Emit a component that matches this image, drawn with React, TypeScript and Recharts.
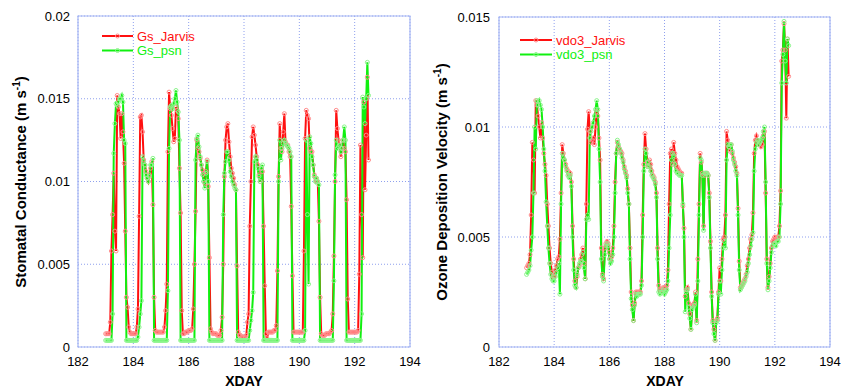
import React from 'react';
import { LineChart, Line, XAxis, YAxis, CartesianGrid, ReferenceArea } from 'recharts';

// ---------- data (hourly samples from XDAY 183.0 to 192.5) ----------
const startDay = 183;
const samplesPerDay = 24;
const xTicks = [182, 184, 186, 188, 190, 192, 194];
const gsTicks = [0, 0.005, 0.01, 0.015, 0.02];
const vdTicks = [0, 0.005, 0.01, 0.015];

const gsJarvis = [
  0.0008,0.0008,0.0008,0.0008,0.0015,0.0058,0.008,0.0105,0.007,0.0058,0.0152,0.0145,0.0141,0.0126,0.0141,0.013,0.0111,0.007,0.003,0.0024,0.0012,0.0009,0.0008,0.0008,
  0.0008,0.0008,0.0008,0.0012,0.0023,0.0079,0.0139,0.014,0.013,0.0113,0.011,0.0106,0.0102,0.01,0.0104,0.0108,0.0112,0.0086,0.003,0.001,0.0009,0.0009,0.0009,0.0009,
  0.0009,0.0009,0.0009,0.0012,0.0022,0.0038,0.0118,0.0154,0.0144,0.014,0.0132,0.0124,0.0126,0.0145,0.0143,0.0138,0.0108,0.0081,0.0022,0.0008,0.0008,0.0009,0.0009,0.0009,
  0.001,0.001,0.001,0.0011,0.0023,0.005,0.0082,0.0125,0.012,0.0118,0.0114,0.011,0.0107,0.0105,0.0099,0.0106,0.0113,0.0097,0.0054,0.0011,0.0009,0.0008,0.0008,0.0008,
  0.0008,0.0007,0.0007,0.0007,0.001,0.0018,0.005,0.0103,0.0125,0.0133,0.0135,0.0124,0.0115,0.0108,0.0105,0.0102,0.0098,0.0095,0.0049,0.0009,0.0007,0.0007,0.0006,0.0006,
  0.0006,0.0006,0.0007,0.0015,0.002,0.0073,0.01,0.0127,0.0133,0.0128,0.0122,0.0115,0.011,0.0104,0.01,0.0108,0.0106,0.0073,0.0037,0.0008,0.0005,0.0009,0.0009,0.0009,
  0.0009,0.0009,0.001,0.001,0.0013,0.0046,0.0103,0.0135,0.012,0.0118,0.013,0.0141,0.0124,0.0122,0.0122,0.0118,0.0115,0.0085,0.0043,0.0009,0.0009,0.0009,0.0009,0.0009,
  0.0009,0.0009,0.0009,0.0009,0.0058,0.0126,0.0143,0.014,0.0138,0.012,0.0118,0.0118,0.011,0.0104,0.0102,0.01,0.01,0.0076,0.003,0.0008,0.0007,0.0007,0.0007,0.0008,
  0.0008,0.0008,0.0008,0.0009,0.001,0.002,0.0055,0.01,0.0143,0.0132,0.0125,0.0122,0.0115,0.012,0.0125,0.012,0.0118,0.0089,0.0029,0.0009,0.0009,0.0009,0.0009,0.0009,
  0.0009,0.0009,0.0009,0.001,0.0044,0.0122,0.008,0.0054,0.0148,0.0095,0.0128,0.0163,0.0113,
];

const gsPsn = [
  0.0004,0.0004,0.0004,0.0004,0.0004,0.0004,0.002,0.0117,0.0135,0.0147,0.0146,0.0148,0.015,0.015,0.0152,0.0148,0.0125,0.0123,0.0004,0.0004,0.0004,0.0004,0.0004,0.0004,
  0.0004,0.0004,0.0004,0.0004,0.0006,0.0012,0.002,0.0028,0.0115,0.0112,0.011,0.0104,0.0102,0.01,0.0103,0.011,0.011,0.0114,0.0004,0.0004,0.0004,0.0004,0.0004,0.0004,
  0.0004,0.0004,0.0004,0.0004,0.0004,0.0004,0.0034,0.012,0.0145,0.0146,0.0144,0.0147,0.015,0.0155,0.0148,0.0142,0.0125,0.0004,0.0004,0.0004,0.0004,0.0004,0.0004,0.0004,
  0.0004,0.0004,0.0004,0.0004,0.0004,0.0004,0.0113,0.0126,0.0128,0.0121,0.0115,0.011,0.0104,0.01,0.0096,0.0105,0.0112,0.01,0.0004,0.0004,0.0004,0.0004,0.0004,0.0004,
  0.0004,0.0004,0.0004,0.0004,0.0004,0.0004,0.008,0.0105,0.0112,0.0118,0.0118,0.0113,0.0106,0.0103,0.01,0.0098,0.0096,0.0095,0.0004,0.0004,0.0004,0.0004,0.0004,0.0004,
  0.0004,0.0004,0.0004,0.0004,0.0004,0.001,0.0016,0.0022,0.0033,0.0112,0.0115,0.0113,0.0108,0.0103,0.01,0.0108,0.011,0.0004,0.0004,0.0004,0.0004,0.0004,0.0004,0.0004,
  0.0004,0.0004,0.0004,0.0004,0.0004,0.0004,0.01,0.0125,0.0113,0.012,0.0123,0.0125,0.0123,0.0122,0.0121,0.012,0.0118,0.0115,0.0004,0.0004,0.0004,0.0004,0.0004,0.0004,
  0.0004,0.0004,0.0004,0.0004,0.0004,0.001,0.0125,0.008,0.0038,0.0127,0.0123,0.0115,0.011,0.0103,0.01,0.0102,0.01,0.0098,0.0004,0.0004,0.0004,0.0004,0.0004,0.0004,
  0.0004,0.0004,0.0004,0.0004,0.0004,0.0004,0.004,0.0104,0.0125,0.012,0.0121,0.0122,0.0118,0.012,0.0125,0.0133,0.0125,0.0004,0.0004,0.0004,0.0004,0.0004,0.0004,0.0004,
  0.0004,0.0004,0.0004,0.0004,0.0004,0.0004,0.002,0.0151,0.0145,0.0135,0.015,0.0172,0.0152,
];

const vdo3Jarvis = [
  0.0036,0.0037,0.0038,0.0042,0.006,0.0093,0.0085,0.007,0.0112,0.011,0.0105,0.01,0.0095,0.0102,0.0095,0.0088,0.0083,0.0078,0.0065,0.0055,0.0045,0.0038,0.0034,0.0032,
  0.0032,0.0035,0.0037,0.004,0.0041,0.0049,0.007,0.0092,0.0088,0.0085,0.0083,0.0081,0.008,0.0078,0.0079,0.0075,0.0055,0.004,0.003,0.0027,0.0032,0.0036,0.0037,0.004,
  0.0042,0.0045,0.0038,0.0031,0.0065,0.0099,0.0107,0.0098,0.0093,0.0094,0.0095,0.0092,0.01,0.0107,0.0105,0.0095,0.0085,0.0045,0.0033,0.0031,0.0045,0.0047,0.0048,0.0047,
  0.0043,0.004,0.0041,0.0045,0.0055,0.0075,0.0088,0.0093,0.0091,0.009,0.0089,0.0088,0.0085,0.0082,0.008,0.0078,0.0072,0.0065,0.0045,0.0025,0.0019,0.0012,0.002,0.0025,
  0.0025,0.0025,0.0025,0.0025,0.003,0.006,0.0083,0.0097,0.009,0.0084,0.0082,0.0085,0.0083,0.008,0.0078,0.0077,0.0075,0.007,0.0045,0.0028,0.0026,0.0026,0.0026,0.0027,
  0.0027,0.0027,0.0028,0.0035,0.0065,0.0088,0.009,0.0083,0.0093,0.0088,0.0085,0.0082,0.0081,0.008,0.0079,0.0079,0.0064,0.0054,0.0023,0.0026,0.0027,0.002,0.0015,0.0008,
  0.0019,0.0019,0.002,0.0025,0.0012,0.004,0.0065,0.0088,0.0084,0.0079,0.0055,0.0078,0.0079,0.0079,0.0078,0.007,0.0048,0.0025,0.0012,0.0008,0.0003,0.0012,0.0013,0.0025,
  0.0036,0.003,0.004,0.0049,0.005,0.006,0.0098,0.0094,0.0091,0.0089,0.0092,0.0088,0.0086,0.0084,0.0082,0.0079,0.0063,0.0039,0.0027,0.0028,0.0029,0.003,0.0031,0.0033,
  0.0037,0.004,0.0045,0.0049,0.0051,0.0061,0.0088,0.0094,0.0096,0.0094,0.0092,0.0093,0.0091,0.0092,0.0096,0.0098,0.007,0.004,0.0027,0.0032,0.0038,0.0045,0.0048,0.0049,
  0.005,0.0049,0.005,0.005,0.0055,0.0071,0.013,0.0135,0.0147,0.0135,0.0104,0.014,0.0123,
];

const vdo3Psn = [
  0.0033,0.0034,0.0035,0.0037,0.0044,0.005,0.007,0.01,0.009,0.0112,0.011,0.0112,0.011,0.0108,0.01,0.009,0.008,0.0066,0.0055,0.0045,0.0038,0.0033,0.0031,0.003,
  0.003,0.0032,0.0034,0.0036,0.0038,0.0024,0.0065,0.0088,0.0086,0.0085,0.0082,0.008,0.0078,0.0077,0.0078,0.0073,0.005,0.0035,0.0028,0.0027,0.0033,0.0036,0.0038,0.0039,
  0.0039,0.0043,0.0036,0.0031,0.0058,0.006,0.0058,0.0095,0.0098,0.01,0.0102,0.0105,0.0108,0.0112,0.0108,0.009,0.0075,0.004,0.0032,0.003,0.0042,0.0046,0.0047,0.0046,
  0.004,0.0038,0.0039,0.0042,0.005,0.007,0.0088,0.0094,0.0092,0.009,0.0088,0.0086,0.0084,0.0081,0.0079,0.0077,0.007,0.0065,0.004,0.0022,0.0017,0.0012,0.0019,0.0024,
  0.0023,0.0024,0.0024,0.0024,0.0028,0.005,0.008,0.009,0.0088,0.0082,0.0084,0.0082,0.008,0.0078,0.0077,0.0076,0.0074,0.0068,0.004,0.0025,0.0024,0.0025,0.0025,0.0026,
  0.0024,0.0025,0.0026,0.003,0.0045,0.006,0.0085,0.0088,0.0087,0.0083,0.008,0.0079,0.0079,0.0078,0.0078,0.0078,0.0065,0.005,0.0016,0.0025,0.0026,0.0018,0.0013,0.0008,
  0.0017,0.0018,0.0019,0.0024,0.0011,0.003,0.006,0.0086,0.0085,0.0078,0.0053,0.0079,0.0079,0.0079,0.0078,0.0068,0.0045,0.0023,0.0011,0.0006,0.0003,0.0011,0.0012,0.0024,
  0.003,0.0024,0.0035,0.0045,0.0048,0.0045,0.0085,0.0092,0.0091,0.0092,0.0092,0.0089,0.0085,0.0083,0.008,0.0078,0.006,0.0035,0.0026,0.0027,0.0028,0.0029,0.003,0.0032,
  0.0034,0.0038,0.0042,0.0046,0.0049,0.0052,0.008,0.009,0.0093,0.0094,0.0092,0.0093,0.0094,0.0095,0.0098,0.01,0.0075,0.0038,0.0026,0.003,0.0036,0.0043,0.0046,0.0047,
  0.0047,0.0046,0.0048,0.0048,0.005,0.0065,0.012,0.0133,0.0148,0.013,0.012,0.014,0.0137,
];

// ---------- styling ----------
const FONT = '"Liberation Sans", Arial, Helvetica, sans-serif';
const RED = '#ff1010';
const GREEN = '#10f010';
const RED_DOT = '#ff8c8c';
const GREEN_DOT = '#8cf58c';
const GRID = '#8fa0ee';
const FRAME = '#a6b6f4';

function buildRows(a: number[], b: number[]) {
  return a.map((v, i) => ({ x: startDay + i / samplesPerDay, a: v, b: b[i] }));
}

type PanelProps = {
  left: number;
  rows: { x: number; a: number; b: number }[];
  yMax: number;
  yTicks: number[];
  yAxisWidth: number;
  marginTop: number;
  marginRight: number;
  tickGap: number;
};

function Panel({ left, rows, yMax, yTicks, yAxisWidth, marginTop, marginRight, tickGap }: PanelProps) {
  const tickStyle = { fontSize: 13, fill: '#000', fontFamily: FONT };
  return (
    <div style={{ position: 'absolute', left, top: 0 }}>
      <LineChart
        width={423}
        height={389}
        data={rows}
        margin={{ top: marginTop, right: marginRight, bottom: 0, left: 0 }}
      >
        <CartesianGrid stroke={GRID} strokeDasharray="1 2" />
        <XAxis
          type="number"
          dataKey="x"
          domain={[182, 194]}
          ticks={xTicks}
          interval={0}
          height={42}
          axisLine={false}
          tickLine={false}
          tickSize={0}
          tickMargin={10}
          tick={tickStyle}
        />
        <YAxis
          type="number"
          domain={[0, yMax]}
          ticks={yTicks}
          interval={0}
          width={yAxisWidth}
          axisLine={false}
          tickLine={false}
          tickSize={0}
          tickMargin={tickGap}
          tick={tickStyle}
          tickFormatter={(v: number) => String(v)}
        />
        <ReferenceArea x1={182} x2={194} y1={0} y2={yMax} fill="none" stroke={FRAME} strokeWidth={1.2} />
        <Line
          type="linear"
          dataKey="a"
          stroke={RED}
          strokeWidth={2}
          dot={{ r: 2, stroke: RED_DOT, strokeWidth: 1, fill: 'none' }}
          activeDot={false}
          isAnimationActive={false}
        />
        <Line
          type="linear"
          dataKey="b"
          stroke={GREEN}
          strokeWidth={2}
          dot={{ r: 2, stroke: GREEN_DOT, strokeWidth: 1, fill: 'none' }}
          activeDot={false}
          isAnimationActive={false}
        />
      </LineChart>
    </div>
  );
}

function LegendRow({ x1, x2, y, color, dotColor, label }: { x1: number; x2: number; y: number; color: string; dotColor: string; label: string }) {
  return (
    <g>
      <line x1={x1} x2={x2} y1={y} y2={y} stroke={color} strokeWidth={2} />
      <circle cx={(x1 + x2) / 2} cy={y} r={2} stroke={dotColor} fill="none" />
      <text x={x2 + 4} y={y + 4.5} fill={color} fontSize={13} fontFamily={FONT}>{label}</text>
    </g>
  );
}

function YTitle({ x, y, text }: { x: number; y: number; text: string }) {
  return (
    <text
      x={x}
      y={y}
      transform={`rotate(-90 ${x} ${y})`}
      textAnchor="middle"
      fontSize={15}
      fontWeight="bold"
      fontFamily={FONT}
      fill="#000"
    >
      {text}
      <tspan fontSize={10} dy={-6}>-1</tspan>
      <tspan dy={6}>)</tspan>
    </text>
  );
}

export default function App() {
  const gsRows = buildRows(gsJarvis, gsPsn);
  const vdRows = buildRows(vdo3Jarvis, vdo3Psn);
  return (
    <div style={{ position: 'absolute', left: 0, top: 0, width: 846, height: 389, background: '#fff', overflow: 'hidden' }}>
      <Panel left={0} rows={gsRows} yMax={0.02} yTicks={gsTicks} yAxisWidth={78} marginTop={16} marginRight={13} tickGap={8} />
      <Panel left={423} rows={vdRows} yMax={0.015} yTicks={vdTicks} yAxisWidth={76} marginTop={17} marginRight={16} tickGap={9} />
      <svg width={846} height={389} style={{ position: 'absolute', left: 0, top: 0, pointerEvents: 'none' }}>
        <YTitle x={26} y={182} text="Stomatal Conductance (m s" />
        <YTitle x={447} y={182} text="Ozone Deposition Velocity (m s" />
        <text x={244} y={386} textAnchor="middle" fontSize={14} fontWeight="bold" fontFamily={FONT}>XDAY</text>
        <text x={665} y={386} textAnchor="middle" fontSize={14} fontWeight="bold" fontFamily={FONT}>XDAY</text>
        <LegendRow x1={102} x2={133} y={36} color={RED} dotColor={RED_DOT} label="Gs_Jarvis" />
        <LegendRow x1={102} x2={133} y={50.5} color={GREEN} dotColor={GREEN_DOT} label="Gs_psn" />
        <LegendRow x1={520} x2={552} y={40} color={RED} dotColor={RED_DOT} label="vdo3_Jarvis" />
        <LegendRow x1={520} x2={552} y={54.5} color={GREEN} dotColor={GREEN_DOT} label="vdo3_psn" />
      </svg>
    </div>
  );
}
